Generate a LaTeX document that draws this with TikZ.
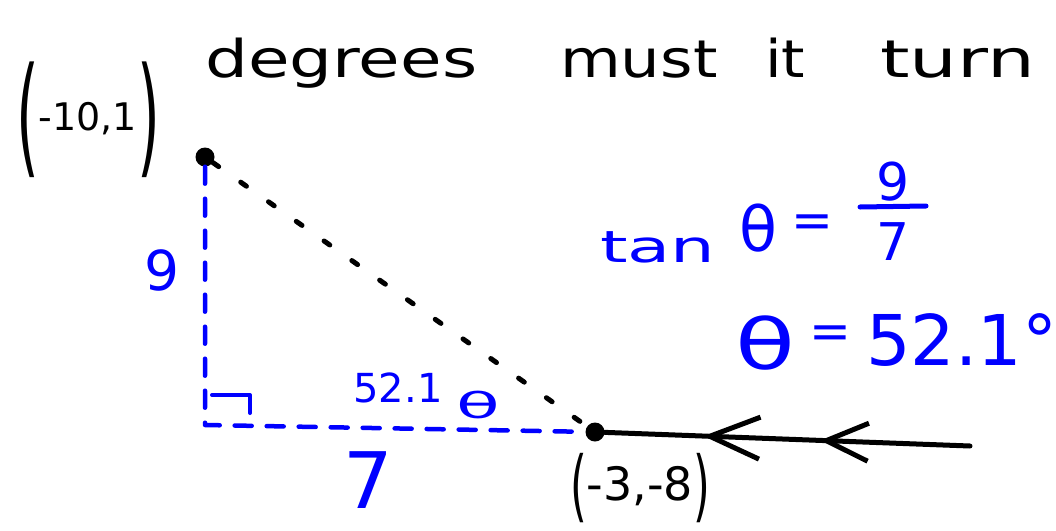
\documentclass[tikz,border=0pt]{standalone}
\usepackage{fontspec}
\setmainfont{DejaVu Sans}
\usetikzlibrary{arrows.meta,decorations.markings}
\tikzset{
  pen/.style={line width=5pt, line cap=round, line join=round},
  dot/.style={circle, fill=black, inner sep=0pt, minimum size=19pt},
  txt/.style={inner sep=0pt},
  blk/.style={txt, text=black},
  blu/.style={txt, text=blue},
  hyp/.style={pen, black, dash pattern=on 7pt off 27pt},
  bdash/.style={pen, blue, line width=4.5pt, dash pattern=on 17pt off 15pt},
  flow/.style={pen, black, postaction={decorate}, decoration={markings,
     mark=at position 0.27 with {\arrowreversed{Straight Barb[length=50pt,width=42pt,line width=5pt]}},
     mark=at position 0.59 with {\arrowreversed{Straight Barb[length=42pt,width=38pt,line width=5pt]}}}}
}
\newcommand{\fs}[1]{\fontsize{#1}{#1}\selectfont}
\begin{document}
\begin{tikzpicture}[x=1pt,y=-1pt]
\useasboundingbox (0,0) rectangle (1056,530);
\clip (0,0) rectangle (1056,530);
\fill[white] (0,0) rectangle (1056,530);

% title words
\node[blk, anchor=base west] (w1) at (205,77) {\fs{52}\scalebox{1.3}[1]{degrees}};
\node[blk, anchor=base west] (w2) at (560,77) {\fs{52}\scalebox{1.2}[1]{must}};
\node[blk, anchor=base west] (w3) at (765,77) {\fs{52}\scalebox{1.15}[1]{it}};
\node[blk, anchor=base west] (w4) at (880,77) {\fs{52}\scalebox{1.45}[1]{turn}};

% points
\node[dot] (A) at (205,157) {};
\node[dot] (B) at (595,432) {};
\coordinate (C) at (205,425);
\coordinate (E) at (970,446);

% point labels
\node[blk] (LA) at (88,120) {\fs{130}\scalebox{0.45}[1]{(}\fs{38}\raisebox{30pt}{-10,1}\fs{130}\scalebox{0.45}[1]{)}};
\node[blk] (LB) at (640,488) {\fs{78}\scalebox{0.55}[1]{(}\fs{46}\raisebox{12pt}{-3,-8}\fs{78}\scalebox{0.55}[1]{)}};

% triangle
\draw[hyp] (A) -- (B);
\draw[bdash] (A) -- (C) -- (B);
\draw[pen, blue, line width=4pt] (212,395) -- (250,395) -- (250,413);

% motion line
\draw[flow] (B) -- (E);

% side labels
\node[blu] (n9) at (162,270) {\fs{55}9};
\node[blu] (n7) at (368,480) {\fs{78}7};
\node[blu] (ang) at (398,388) {\fs{40}52.1};
\node[blu] (th) at (478,405) {\fs{42}\scalebox{1.7}[0.85]{θ}};

% equations
\node[blu, anchor=base west] (tan) at (600,262) {\fs{44}\scalebox{1.6}[1]{tan}};
\node[blu] (th1) at (758,228) {\fs{62}θ};
\node[blu] (eq1) at (812,226) {\fs{50}=};
\node[blu] (num) at (893,182) {\fs{52}9};
\node[blu] (den) at (893,242) {\fs{52}7};
\draw[pen, blue] (860,207) -- (926,206);

\node[blu] (th2) at (765,343) {\fs{70}\scalebox{1.4}[1]{θ}};
\node[blu] (eq2) at (830,337) {\fs{50}=};
\node[blu, anchor=base west] (val) at (866,365) {\fs{70}52.1°};
\end{tikzpicture}
\end{document}
